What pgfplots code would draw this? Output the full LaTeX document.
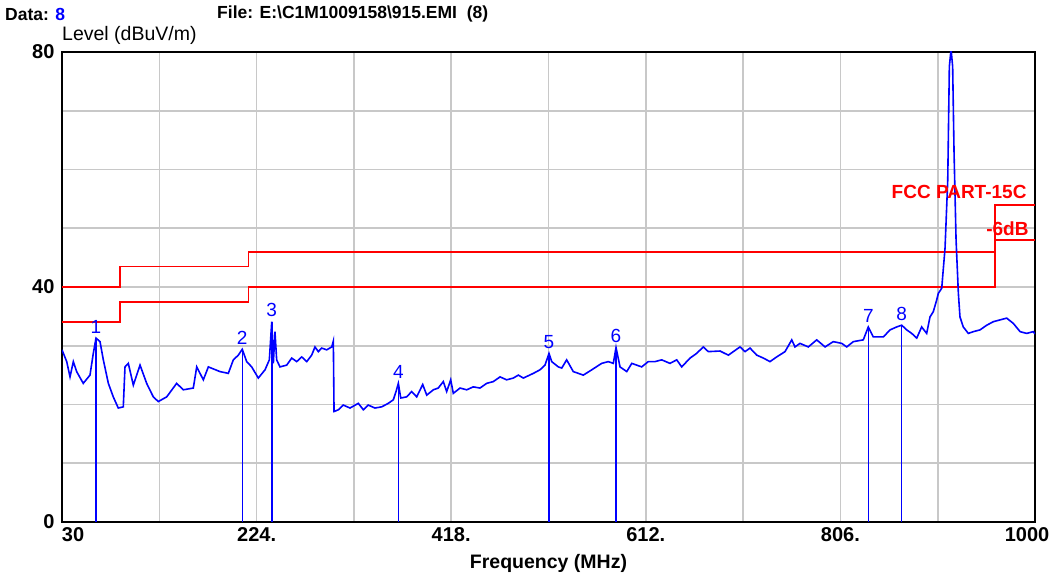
\documentclass[border=0pt]{standalone}
\usepackage{pgfplots}
\pgfplotsset{compat=1.18}
\usepackage{fontspec}
\setmainfont{Liberation Sans}
\definecolor{gridgray}{RGB}{200,200,200}
\definecolor{tracblue}{RGB}{0,0,255}
\definecolor{limred}{RGB}{255,0,0}
\begin{document}
\begin{tikzpicture}[x=1bp,y=1bp]
\useasboundingbox (-62,-55) rectangle (995,522);
\begin{axis}[
  at={(0,0)}, anchor=south west,
  scale only axis, width=973bp, height=470bp,
  xmin=30, xmax=1000, ymin=0, ymax=80,
  xtick={30,224,418,612,806,1000},
  xticklabels={\rlap{30},224.,418.,612.,806.,{\makebox[0pt]{1000\hspace{16bp}}}},
  minor xtick={127,321,515,709,903},
  ytick={0,40,80}, yticklabels={0,40,80},
  minor ytick={10,20,30,50,60,70},
  grid=both,
  grid style={draw=gridgray, line width=1.6bp},
  minor grid style={draw=gridgray, line width=1.6bp},
  major tick length=0pt, minor tick length=0pt,
  axis line style={line width=1.6bp, black},
  ticklabel style={font=\fontsize{20bp}{22bp}\selectfont\bfseries},
  xticklabel style={yshift=-2bp},
  yticklabel style={xshift=-4bp},
  xlabel={Frequency (MHz)},
  xlabel style={font=\fontsize{19.5bp}{21bp}\selectfont\bfseries, at={(axis description cs:0.5,0)}, anchor=center, yshift=-41bp},
]
\addplot[const plot, limred, line width=1.8bp] coordinates {(30,40)(88,43.5)(216,46)(960,54)(1000,54)};
\addplot[const plot, limred, line width=1.8bp] coordinates {(30,34)(88,37.5)(216,40)(960,48)(1000,48)};
\addplot[tracblue, line width=1.6bp] table {
x y
30 29.3
34.7 27.3
38.0 24.7
41.3 27.3
44.6 25.6
51.2 23.6
57.9 25.0
61.2 28.7
63.9 31.3
67.9 30.7
71.2 27.6
76.2 23.6
81.1 21.3
86.1 19.4
91.1 19.6
92.8 26.4
96.1 27.0
101.1 23.3
107.8 26.7
114.4 23.6
121.0 21.3
126.0 20.5
134.4 21.3
144.3 23.6
150.9 22.5
160.9 22.8
164.3 26.4
170.9 24.2
175.9 26.4
187.5 25.6
195.8 25.3
200.8 27.6
205.8 28.4
209.7 29.4
214.1 27.3
219.1 26.4
225.7 24.5
232.4 25.9
236.7 27.6
239.1 34.1
240.7 27.0
242.3 32.4
244.0 27.6
247.3 26.4
254.0 26.7
259.0 27.9
264.0 27.3
269.0 28.1
274.0 27.3
278.9 28.4
282.2 29.8
285.5 29.0
288.9 29.6
293.9 29.3
298.9 29.8
300.5 30.8
301.2 18.8
305.5 19.1
310.4 19.9
317.1 19.4
325.4 20.2
330.4 19.1
335.3 19.9
342.0 19.4
348.7 19.6
355.3 20.2
360.3 20.8
363.0 22.2
365.3 23.6
367.7 21.1
373.6 21.3
378.6 22.2
383.6 21.3
389.6 23.4
393.6 21.6
400.2 22.5
405.1 22.8
410.1 23.9
413.5 22.2
417.5 24.2
420.1 21.9
426.8 22.8
433.5 22.5
440.0 23.0
446.7 22.8
453.4 23.6
460.0 23.9
466.7 24.7
473.3 24.2
479.9 24.5
484.9 25.0
489.9 24.5
499.9 25.3
506.5 25.9
511.5 26.7
515.5 28.7
518.2 27.3
524.8 26.4
528.2 26.2
533.1 27.6
539.7 25.6
549.7 25.0
558.1 25.9
568.0 27.0
574.6 27.3
579.6 27.0
582.3 29.7
586.3 26.4
593.0 25.6
598.0 27.0
607.9 26.4
614.5 27.3
621.2 27.3
627.8 27.6
636.1 27.0
642.8 27.6
647.8 26.4
656.1 27.9
662.7 28.7
669.3 29.8
674.3 29.0
686.0 29.1
694.3 28.4
705.9 29.8
710.9 29.0
715.9 29.6
722.6 28.4
729.2 27.9
735.8 27.3
742.5 28.1
750.8 29.0
757.5 31.0
760.7 29.8
765.7 30.4
774.0 29.8
782.4 31.0
790.7 29.8
798.9 30.7
807.3 30.4
812.3 29.8
818.9 30.7
828.8 31.0
833.8 33.2
838.8 31.5
848.8 31.5
855.5 32.7
862.1 33.2
867.1 33.5
872.1 32.7
877.1 32.1
882.1 31.3
887.0 33.2
892.0 32.1
895.3 34.9
898.6 35.8
902.0 37.8
903.6 38.9
907.0 39.8
910.3 46.6
913.0 58.2
914.6 77.5
916.3 80.5
917.9 77.5
919.3 62.8
921.3 48.0
923.6 38.9
925.2 34.9
928.5 33.2
933.5 32.1
938.5 32.4
945.2 32.7
951.9 33.5
958.5 34.1
965.1 34.4
971.8 34.7
978.4 33.8
985.1 32.4
991.7 32.1
998.3 32.4
1000 32.0
};
\addplot[ycomb, tracblue, line width=1.5bp,
  nodes near coords, point meta=explicit symbolic,
  nodes near coords style={anchor=south, text=tracblue, inner sep=1bp, yshift=3bp,
    font=\fontsize{19bp}{20bp}\selectfont}]
  table[meta=label] {
x y label
63.9 31.3 1
209.7 29.4 2
239.1 34.1 3
365.3 23.6 4
515.5 28.7 5
582.3 29.7 6
833.8 33.2 7
867.1 33.5 8
};
\node[anchor=east, text=limred, font=\fontsize{19bp}{20bp}\selectfont\bfseries] at (axis cs:995,56.2) {FCC PART-15C};
\node[anchor=east, text=limred, font=\fontsize{19bp}{20bp}\selectfont\bfseries] at (axis cs:997,50.0) {-6dB};
\end{axis}
\node[anchor=west, font=\fontsize{17.5bp}{19bp}\selectfont\bfseries, inner sep=0pt] at (-57,508) {Data: \textcolor{tracblue}{8}};
\node[anchor=west, font=\fontsize{17.5bp}{19bp}\selectfont\bfseries, inner sep=0pt] at (155,508) {File: E:\textbackslash C1M1009158\textbackslash 915.EMI\ \ (8)};
\node[anchor=west, font=\fontsize{19.5bp}{20bp}\selectfont, inner sep=0pt] at (0,487) {Level (dBuV/m)};
\end{tikzpicture}
\end{document}
